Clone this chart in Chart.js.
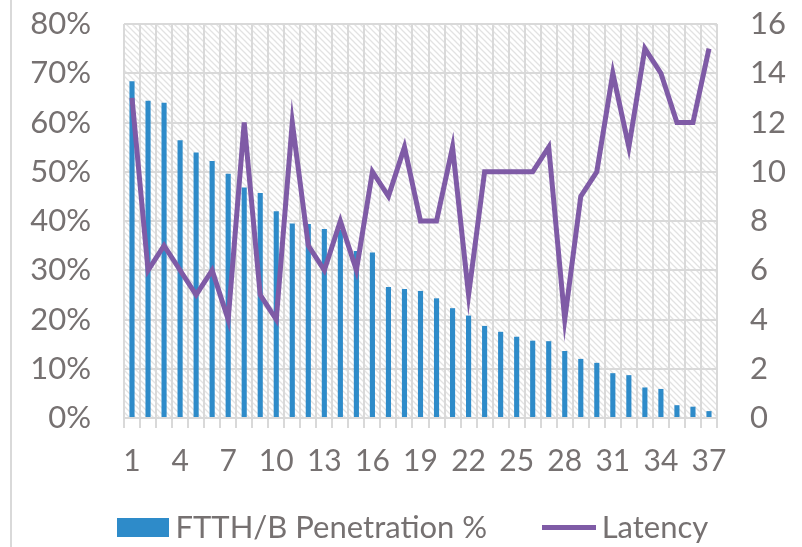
<!DOCTYPE html>
<html>
<head>
<meta charset="utf-8">
<script src="https://cdn.jsdelivr.net/npm/chart.js@4.4.1/dist/chart.umd.min.js"></script>
<style>
  html, body { margin: 0; padding: 0; background: #fff; }
  #wrap { position: relative; width: 802px; height: 547px; }
</style>
</head>
<body>
<div id="wrap"><canvas id="combo-chart"></canvas></div>
<script>
// Chart data
var categories = ['1','2','3','4','5','6','7','8','9','10','11','12','13','14','15','16','17','18','19',
  '20','21','22','23','24','25','26','27','28','29','30','31','32','33','34','35','36','37'];
var penetration = [68.4, 64.4, 64.0, 56.4, 53.9, 52.2, 49.6, 46.8, 45.7, 42.0, 39.5, 39.4, 38.4, 38.2,
  33.9, 33.6, 26.6, 26.2, 25.8, 24.3, 22.3, 20.8, 18.7, 17.5, 16.5, 15.7, 15.6, 13.6, 12.0, 11.2,
  9.1, 8.7, 6.2, 5.9, 2.6, 2.3, 1.4];
var latency = [13, 6, 7, 6, 5, 6, 4, 12, 5, 4, 12, 7, 6, 8, 6, 10, 9, 11, 8, 8, 11, 5, 10, 10, 10, 10,
  11, 4, 9, 10, 14, 11, 15, 14, 12, 12, 15];
var seriesNames = ['FTTH/B Penetration %', 'Latency'];

var textColor = '#767171';
var gridColor = '#d9d9d9';
var barColor = '#2e8bc9';
var lineColor = '#7f5ba6';
var tickFont = { family: 'Lato, sans-serif', size: 31 };
var labelFont = { family: 'Lato, sans-serif', size: 30 };
var legendFont = { family: 'Lato, sans-serif', size: 31 };

// hatched plot background
function makeHatch() {
  var c = document.createElement('canvas');
  c.width = 6; c.height = 6;
  var g = c.getContext('2d');
  g.fillStyle = '#ffffff';
  g.fillRect(0, 0, 6, 6);
  g.strokeStyle = '#e2e2e2';
  g.lineWidth = 1.3;
  g.beginPath();
  g.moveTo(-1, -1); g.lineTo(7, 7);
  g.moveTo(-1, 5); g.lineTo(1, 7);
  g.moveTo(5, -1); g.lineTo(7, 1);
  g.stroke();
  return g.createPattern(c, 'repeat');
}

// legend markers
function swatch(w, h, color) {
  var c = document.createElement('canvas');
  c.width = w; c.height = h;
  var g = c.getContext('2d');
  g.fillStyle = color;
  g.fillRect(0, 0, w, h);
  return c;
}
var barMarker = swatch(52, 19, barColor);
var lineMarker = swatch(54, 5, lineColor);

var backdrop = {
  id: 'backdrop',
  afterLayout: function(chart) {
    // legend sits left of centre in the original
    chart.legend.left = 92;
  },
  beforeDraw: function(chart) {
    var ctx = chart.ctx, a = chart.chartArea;
    ctx.save();
    ctx.fillStyle = '#ffffff';
    ctx.fillRect(0, 0, chart.width, chart.height);
    ctx.fillStyle = makeHatch();
    ctx.fillRect(a.left, a.top, a.right - a.left, a.bottom - a.top);
    // outer frame line on the left
    ctx.strokeStyle = gridColor;
    ctx.lineWidth = 2;
    ctx.beginPath();
    ctx.moveTo(11, 0); ctx.lineTo(11, chart.height);
    ctx.stroke();
    ctx.restore();
  }
};

var ctx = document.getElementById('combo-chart');

var chartData = {
  labels: categories,
  datasets: [{
    type: 'bar',
    label: seriesNames[0],
    data: penetration,
    backgroundColor: barColor,
    borderWidth: 0,
    barPercentage: 0.32,
    categoryPercentage: 1,
    yAxisID: 'y',
    order: 1
  }, {
    type: 'line',
    label: seriesNames[1],
    data: latency,
    borderColor: lineColor,
    backgroundColor: lineColor,
    borderWidth: 5,
    pointRadius: 0,
    tension: 0,
    yAxisID: 'y1',
    order: 0
  }]
};

var chartOptions = {
  responsive: true,
  maintainAspectRatio: false,
  animation: false,
  layout: { padding: { top: 24, left: 0, right: 0, bottom: -6 } },
  plugins: {
    tooltip: { enabled: false },
    legend: {
      position: 'bottom',
      align: 'start',
      labels: {
        color: textColor,
        font: legendFont,
        usePointStyle: true,
        pointStyleWidth: 34,
        boxHeight: 19,
        padding: 34,
        sort: function(a, b) { return a.datasetIndex - b.datasetIndex; },
        generateLabels: function(chart) {
          var items = Chart.defaults.plugins.legend.labels.generateLabels(chart);
          items.forEach(function(it) {
            if (it.datasetIndex === 0) {
              it.pointStyle = barMarker;
              it.text = it.text + '\u2002\u2002'; // wider gap before the second entry
            } else {
              it.pointStyle = lineMarker;
            }
          });
          return items;
        }
      }
    }
  },
  scales: {
    x: {
      offset: true,
      grid: { offset: true, color: gridColor, lineWidth: 2, tickLength: 10, drawTicks: true },
      border: { display: false },
      ticks: {
        color: textColor,
        font: labelFont,
        padding: 15,
        autoSkip: false,
        maxRotation: 0,
        callback: function(v, i) { return i % 3 === 0 ? categories[i] : ''; }
      },
      afterFit: function(s) { s.height = 60; }
    },
    y: {
      position: 'left',
      min: 0,
      max: 80,
      grid: { color: gridColor, lineWidth: 2, drawTicks: true, tickLength: 30, tickColor: 'rgba(0,0,0,0)' },
      border: { display: false },
      ticks: {
        stepSize: 10,
        color: textColor,
        font: tickFont,
        padding: 3,
        callback: function(v) { return v + '%'; }
      },
      afterFit: function(s) { s.width = 124; }
    },
    y1: {
      position: 'right',
      min: 0,
      max: 16,
      grid: { drawOnChartArea: false, drawTicks: true, tickLength: 30, tickColor: 'rgba(0,0,0,0)' },
      border: { display: false },
      ticks: {
        stepSize: 2,
        color: textColor,
        font: tickFont,
        padding: 3
      },
      afterFit: function(s) { s.width = 85; }
    }
  }
};

var config = {
  type: 'bar',
  data: chartData,
  options: chartOptions,
  plugins: [backdrop]
};

var comboChart = new Chart(ctx, config);
</script>
</body>
</html>
